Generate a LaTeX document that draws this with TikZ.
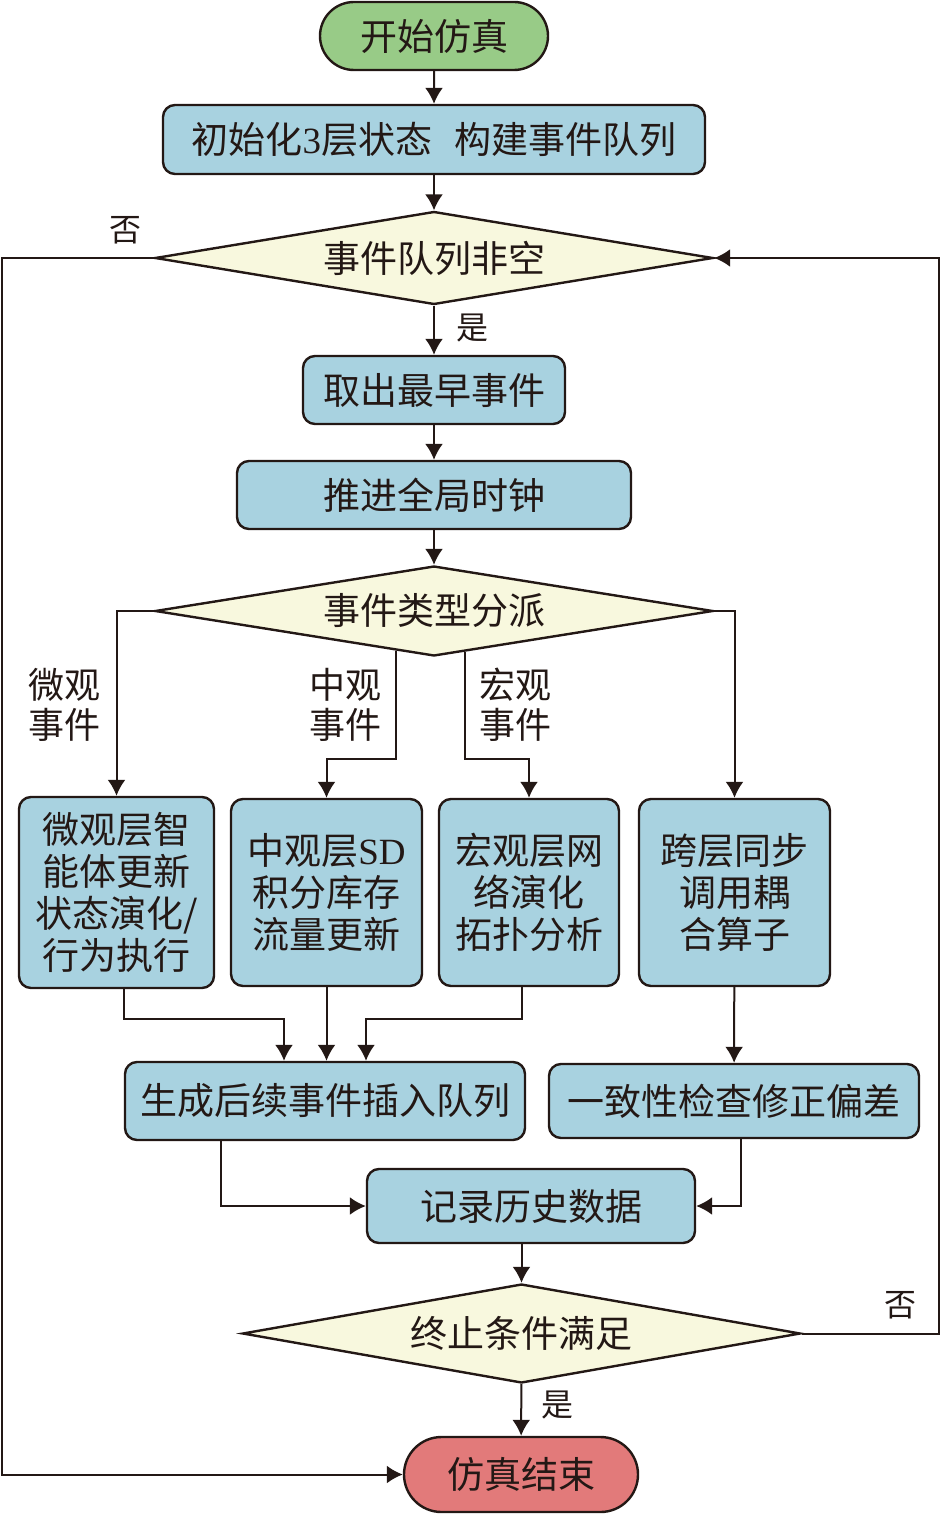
\documentclass[tikz,border=0pt]{standalone}
\usepackage{fontspec}
\setmainfont{Noto Sans CJK SC}
\newfontfamily\latinfont{Liberation Serif}
\usepackage{tikz}
\usetikzlibrary{arrows.meta,shapes.geometric,shapes.misc,calc,positioning}
\definecolor{startgreen}{RGB}{152,203,135}
\definecolor{procblue}{RGB}{168,210,224}
\definecolor{decyellow}{RGB}{248,248,222}
\definecolor{endred}{RGB}{226,122,122}
\definecolor{inkdark}{RGB}{35,24,21}
\tikzset{proc node/.style={rectangle,rounded corners=6pt,draw,fill=procblue,inner sep=0pt,
		line width=1.2pt,align=center,font=\fontsize{18.5}{21}\selectfont},
	term node/.style={rounded rectangle,draw,inner sep=0pt,minimum height=34pt,
		line width=1.2pt,font=\fontsize{18.5}{21}\selectfont},
	dec node/.style={diamond,aspect=6,draw,fill=decyellow,inner sep=0pt,line width=1.2pt,
		minimum width=279pt,minimum height=46.5pt,font=\fontsize{18.5}{21}\selectfont},
	yes label/.style={font=\fontsize{16}{18}\selectfont,inner sep=0pt},
	branch label/.style={font=\fontsize{18}{20}\selectfont,align=center,inner sep=0pt},
}

\begin{document}
\begin{tikzpicture}[x=0.5pt,y=-0.5pt,line width=1pt,color=inkdark,
		>={Latex[length=8pt,width=9pt]}]
	\useasboundingbox (0,0) rectangle (941,1514);
	
	\node[term node,fill=startgreen,minimum width=114pt] (start) at (434,36) {开始仿真};
	\node[proc node,minimum width=271pt,minimum height=34.5pt] (init) at (434,139.5)
		{初始化{\latinfont 3}层状态\hspace{0.6em}构建事件队列};
	\node[dec node] (nonempty) at (434,258) {事件队列非空};
	\node[proc node,minimum width=131pt,minimum height=34pt] (take) at (434,390) {取出最早事件};
	\node[proc node,minimum width=197pt,minimum height=34pt] (clock) at (434,495) {推进全局时钟};
	\node[dec node,minimum height=45pt] (dispatch) at (434,611) {事件类型分派};
	
	\node[proc node,minimum width=97.5pt,minimum height=95.5pt] (micro) at (116.5,892.5)
		{微观层智\\能体更新\\状态演化/\\行为执行};
	\node[proc node,minimum width=95.5pt,minimum height=93.5pt] (meso) at (326.5,892.5)
		{中观层{\latinfont SD}\\积分库存\\流量更新};
	\node[proc node,minimum width=90pt,minimum height=93.5pt] (macro) at (529,892.5)
		{宏观层网\\络演化\\拓扑分析};
	\node[proc node,minimum width=95.5pt,minimum height=93.5pt] (cross) at (734.5,892.5)
		{跨层同步\\调用耦\\合算子};
	
	\node[proc node,minimum width=200pt,minimum height=39pt] (gen) at (325,1101) {生成后续事件插入队列};
	\node[proc node,minimum width=185pt,minimum height=37pt] (consist) at (734,1101) {一致性检查修正偏差};
	\node[proc node,minimum width=164pt,minimum height=37pt] (record) at (531,1206) {记录历史数据};
	\node[dec node,minimum height=49.5pt] (stop) at (521.5,1333.5) {终止条件满足};
	\node[term node,fill=endred,minimum width=117pt,minimum height=37.5pt] (end) at (521,1474.5) {仿真结束};
	
	\coordinate (leftrail) at (2,258);
	\coordinate (rightrail) at (939,258);
	
	% main line
	\draw[->] (start) -- (init);
	\draw[->] (init) -- (nonempty);
	\draw[->] (nonempty) -- (take);
	\draw[->] (take) -- (clock);
	\draw[->] (clock) -- (dispatch);
	\draw[->] (nonempty.west) -- (leftrail) |- (end.west);
	\draw[->] (stop.east) -| (rightrail) -- (nonempty.east);
	
	% dispatch branches
	\draw[->] (dispatch.west) -| (micro.north);
	\draw[->] (dispatch.east) -| (cross.north);
	\draw[->] ($(dispatch.south)!0.136!(dispatch.west)$) |- ([yshift=19.5pt]meso.north) -- (meso.north);
	\draw[->] ($(dispatch.south)!0.111!(dispatch.east)$) |- ([yshift=19.5pt]macro.north) -- (macro.north);
	
	% merge
	\draw[->] ([xshift=3.75pt]micro.south) |- ([xshift=-20.5pt,yshift=21pt]gen.north) -- ([xshift=-20.5pt]gen.north);
	\draw[->] (meso.south) -- (meso.south |- gen.north);
	\draw[->] ([xshift=-3.5pt]macro.south) |- ([xshift=20.5pt,yshift=21pt]gen.north) -- ([xshift=20.5pt]gen.north);
	\draw[->] (cross) -- (consist);
	\draw[->] ([xshift=-52pt]gen.south) |- (record.west);
	\draw[->] ([xshift=3.5pt]consist.south) |- (record.east);
	\draw[->] (record.south -| stop.north) -- (stop.north);
	\draw[->] (stop) -- (end);
	
	\node[yes label] (no1) at (125,230) {否};
	\node[yes label] (yes1) at (472,328) {是};
	\node[yes label] (no2) at (900,1305) {否};
	\node[yes label] (yes2) at (557,1405) {是};
	\node[branch label] (lmicro) at (64,705) {微观\\事件};
	\node[branch label] (lmeso) at (345,705) {中观\\事件};
	\node[branch label] (lmacro) at (515,705) {宏观\\事件};
\end{tikzpicture}
\end{document}
